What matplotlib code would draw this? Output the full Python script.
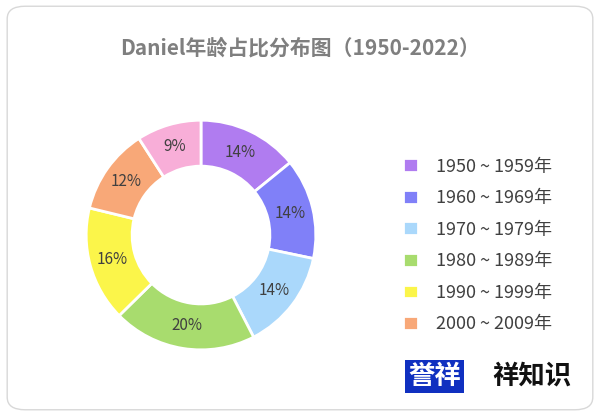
import matplotlib
matplotlib.use("Agg")
import matplotlib.pyplot as plt
from matplotlib.patches import FancyBboxPatch

plt.rcParams['font.family'] = ['Noto Sans CJK SC', 'DejaVu Sans']

labels = ['1950 ~ 1959年', '1960 ~ 1969年', '1970 ~ 1979年', '1980 ~ 1989年',
          '1990 ~ 1999年', '2000 ~ 2009年', '2010 ~ 2019年']
values = [14, 14, 14, 20, 16, 12, 9]
colors = ['#b07cf0', '#8080f8', '#aad8fb', '#a8dc6e', '#fbf54a', '#f8a878', '#f8aed8']
title = 'Daniel年龄占比分布图（1950-2022）'

fig = plt.figure(figsize=(6, 4.16), dpi=100)
fig.patches.append(FancyBboxPatch((0.012, 0.015), 0.976, 0.97, boxstyle='round,pad=0,rounding_size=0.03',
                                  transform=fig.transFigure, fc='white', ec='#d8d8d8', lw=1, zorder=-10))
fig.text(0.5, 0.885, title, ha='center', va='center', fontsize=15, fontweight='bold', color='#7f7f7f')

ax = fig.add_axes([0.095, 0.09, 0.48, 0.69])
wedges, _, texts = ax.pie(values, colors=colors, startangle=90, counterclock=False,
                          autopct='%d%%', pctdistance=0.8,
                          wedgeprops=dict(width=0.4, edgecolor='white', linewidth=2),
                          textprops=dict(fontsize=11, color='#404040'))
for t, v in zip(texts, values):
    t.set_text(f'{v}%')
ax.set_aspect('equal')

leg = fig.legend(wedges[:6], labels[:6], loc='center left', bbox_to_anchor=(0.645, 0.41),
                 frameon=False, fontsize=13, handlelength=0.8, handleheight=0.8,
                 labelspacing=0.75, handletextpad=1.0, labelcolor='#404040')

fig.text(0.68, 0.095, '誉祥', ha='left', va='center', fontsize=19, fontweight='bold',
         color='white', bbox=dict(fc='#1030c0', ec='none', pad=2))
fig.text(0.82, 0.095, '祥知识', ha='left', va='center', fontsize=19, fontweight='bold', color='#111111')

fig.savefig('out.png', dpi=100)
